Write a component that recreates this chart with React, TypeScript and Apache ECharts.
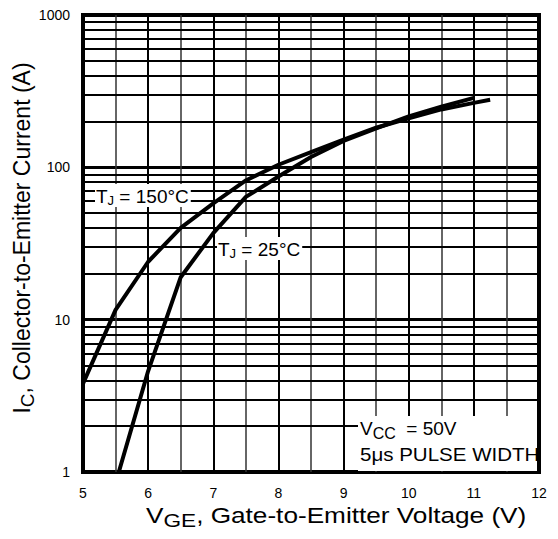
import React, { useEffect, useRef } from "react";
import * as echarts from "echarts";

const xTicks = [5, 6, 7, 8, 9, 10, 11, 12];
const yDecades = [1, 10, 100, 1000];
const yMinorLines = [2, 3, 4, 5, 6, 7, 8, 9, 20, 30, 40, 50, 60, 70, 80, 90, 200, 300, 400, 500, 600, 700, 800, 900];

const tj150: [number, number][] = [
  [5.0, 3.8], [5.5, 11.6], [6.0, 24], [6.5, 40], [7.0, 58], [7.5, 82], [8.0, 104],
  [8.5, 126], [9.0, 152], [9.5, 182], [10.0, 210], [10.5, 240], [11.0, 265], [11.25, 278],
];
const tj25: [number, number][] = [
  [5.55, 1.0], [6.0, 4.6], [6.5, 19], [7.0, 37], [7.5, 64], [8.0, 87],
  [8.5, 117], [9.0, 149], [9.5, 180], [10.0, 216], [10.5, 250], [11.0, 286],
];

const FONT = "Liberation Sans, Arial, sans-serif";

export default function App() {
  const ref = useRef<HTMLDivElement>(null);
  useEffect(() => {
    if (!ref.current) return;
    const chart = echarts.init(ref.current, undefined, { renderer: "svg" });
    const sub = (size: number, pad: number) => ({
      fontFamily: FONT, fontSize: size, fill: "#000", padding: [pad, 0, 0, 0],
    });
    const main = (size: number) => ({ fontFamily: FONT, fontSize: size, fill: "#000" });
    chart.setOption({
      animation: false,
      backgroundColor: "#fff",
      grid: {
        left: 83, right: 19, top: 15, bottom: 67,
        show: true, borderColor: "#000", borderWidth: 4, backgroundColor: "#fff",
      },
      xAxis: {
        type: "value", min: 5, max: 12, interval: 1,
        axisLine: { show: false }, axisTick: { show: false },
        axisLabel: {
          fontFamily: FONT, fontSize: 14, color: "#000", margin: 14,
          formatter: (v: number) => (xTicks.includes(v) ? String(v) : ""),
        },
        splitLine: { show: true, lineStyle: { color: "#000", width: 2 } },
        minorTick: { show: false, splitNumber: 2 },
        minorSplitLine: { show: true, lineStyle: { color: "#333", width: 1.5 } },
      },
      yAxis: {
        type: "log", logBase: 10, min: 1, max: 1000,
        axisLine: { show: false }, axisTick: { show: false },
        axisLabel: {
          fontFamily: FONT, fontSize: 14, color: "#000", margin: 13,
          formatter: (v: number) => (yDecades.includes(Math.round(v)) ? String(Math.round(v)) : ""),
        },
        splitLine: { show: true, lineStyle: { color: "#000", width: 2.8 } },
      },
      series: [
        {
          type: "line", data: [], z: 1, silent: true,
          markLine: {
            silent: true, symbol: ["none", "none"], animation: false,
            label: { show: false },
            lineStyle: { color: "#000", width: 1.9, type: "solid" },
            emphasis: { disabled: true },
            data: yMinorLines.map((v) => ({ yAxis: v })),
          },
        },
        {
          name: "TJ=150", type: "line", data: tj150, symbol: "none", z: 3,
          lineStyle: { color: "#000", width: 4 }, smooth: false,
        },
        {
          name: "TJ=25", type: "line", data: tj25, symbol: "none", z: 3,
          lineStyle: { color: "#000", width: 4 }, smooth: false,
        },
      ],
      graphic: [
        {
          type: "text", left: 95, top: 184, z: 10,
          style: {
            text: "{a|T}{s|J}{a| = 150°C}",
            backgroundColor: "#fff", padding: [1, 2, 0, 1],
            rich: { a: main(19), s: sub(13, 9) },
          },
        },
        {
          type: "text", left: 217, top: 237, z: 10,
          style: {
            text: "{a|T}{s|J}{a| = 25°C}",
            backgroundColor: "#fff", padding: [1, 2, 0, 1],
            rich: { a: main(19), s: sub(13, 9) },
          },
        },
        {
          type: "rect", z: 10,
          shape: { x: 358, y: 416, width: 179, height: 55 },
          style: { fill: "#fff" },
        },
        {
          type: "text", left: 360, top: 419, z: 11,
          style: {
            text: "{a|V}{s|CC}{a|  = 50V}",
            rich: { a: main(19), s: sub(16, 9) },
          },
        },
        {
          type: "text", left: 360, top: 445, z: 11, scaleX: 1.08,
          style: { text: "5μs PULSE WIDTH", font: `19px ${FONT}`, fill: "#000" },
        },
        {
          type: "text", left: 146, top: 504, z: 11, scaleX: 1.19,
          style: {
            text: "{a|V}{s|GE}{a|, Gate-to-Emitter Voltage (V)}",
            rich: { a: main(22), s: sub(19, 11) },
          },
        },
        {
          type: "text", x: 22, y: 238, rotation: Math.PI / 2, z: 11,
          style: {
            text: "{a|I}{s|C}{a|, Collector-to-Emitter Current (A)}",
            align: "center", verticalAlign: "middle",
            rich: { a: main(23), s: sub(19, 11) },
          },
        },
      ],
    });
    return () => chart.dispose();
  }, []);
  return <div ref={ref} style={{ width: 558, height: 539, margin: -8 }} />;
}
